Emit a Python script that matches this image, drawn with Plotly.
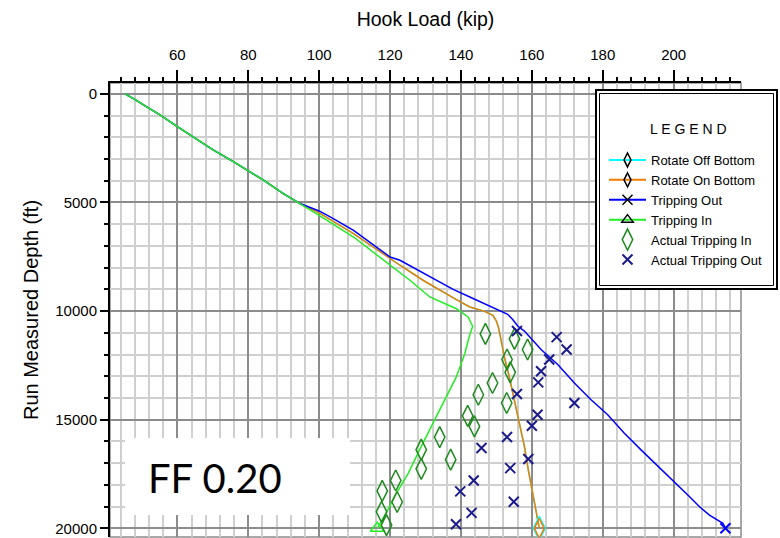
import plotly.graph_objects as go

# ---------------- data ----------------
# Tripping Out (blue)
trip_out_depth = [0, 250, 550, 970, 1510, 2000, 2590, 3120, 3540, 3970, 4590, 5050, 5390, 5740, 6280,
                  7510, 7660, 8580, 9000, 9350, 9920, 10150, 10390, 10690, 10920, 11770, 12460, 13310,
                  14080, 14770, 15620, 16390, 18550, 19010, 19390, 19770, 20000]
trip_out_kip = [45.2, 48.0, 50.9, 55.1, 60.0, 64.5, 70.2, 75.8, 80.0, 84.3, 89.9, 94.6, 100.0, 104.0, 109.7,
                120.0, 122.8, 133.1, 137.8, 142.5, 150.4, 153.2, 154.6, 156.0, 157.9, 162.6, 167.3, 172.0,
                176.7, 181.4, 186.1, 190.8, 204.5, 207.3, 210.1, 213.9, 214.6]

# Rotate On Bottom (orange)
rot_on_depth = [0, 250, 550, 970, 1510, 2000, 2590, 3120, 3540, 3970, 4590, 5050, 5480, 6430, 7890,
                8580, 9460, 9810, 10000, 10200, 10460, 10770, 11150, 12080, 13000, 14080, 15150, 16230,
                17310, 18390, 19150, 20000]
rot_on_kip = [45.2, 48.0, 50.9, 55.1, 60.0, 64.5, 70.2, 75.8, 80.0, 84.3, 89.9, 94.6, 100.0, 109.7, 122.8,
              129.3, 138.6, 142.5, 146.5, 149.0, 150.0, 150.6, 151.1, 152.2, 153.6, 155.1, 156.5, 157.9,
              159.0, 160.2, 161.2, 162.1]

# Rotate Off Bottom (cyan) - hidden under the orange curve
rot_off_depth = list(rot_on_depth)
rot_off_kip = list(rot_on_kip)

# Tripping In (green)
trip_in_depth = [0, 250, 550, 970, 1510, 2000, 2590, 3120, 3540, 3970, 4590, 5050, 5590, 6590, 8200,
                 8580, 9350, 9890, 10270, 10700, 11190, 11950, 13030, 14100, 15010, 16300, 17450, 18500,
                 19270, 20000]
trip_in_kip = [45.2, 48.0, 50.9, 55.1, 60.0, 64.5, 70.2, 75.8, 80.0, 84.3, 89.9, 94.6, 100.0, 109.7, 122.8,
               125.6, 131.2, 138.7, 142.0, 143.3, 142.3, 141.1, 138.7, 135.4, 132.4, 128.6, 125.2, 121.4,
               119.0, 116.4]

# Actual Tripping In (green diamonds)
act_in_kip = [146.9, 155.1, 158.8, 153.0, 153.9, 148.9, 144.9, 152.9, 141.9, 143.8, 134.0, 128.8, 137.1,
              128.8, 121.6, 117.8, 122.0, 117.6, 119.0]
act_in_depth = [11050, 11280, 11770, 12230, 12820, 13310, 13850, 14230, 14820, 15310, 15800, 16380, 16840,
                17260, 17800, 18280, 18790, 19240, 19850]

# Actual Tripping Out (navy crosses)
act_out_kip = [155.8, 167.0, 169.8, 164.9, 162.6, 161.8, 155.8, 172.0, 161.6, 160.0, 153.0, 145.8, 159.0,
               153.9, 143.6, 139.8, 154.9, 143.0, 138.6]
act_out_depth = [10920, 11200, 11770, 12230, 12770, 13280, 13820, 14230, 14770, 15280, 15800, 16300, 16810,
                 17230, 17800, 18300, 18780, 19290, 19810]

x_range = [41, 219]
y_range = [20400, -500]

ARIAL = "Liberation Sans, Arial, sans-serif"

C_CYAN = "#00FFFF"
C_ORANGE = "#F07D00"
C_BLUE = "#0000FF"
C_GREEN = "#22EE22"
C_DGREEN = "#1E8A1E"
C_NAVY = "#1A1A8C"

fig = go.Figure()

# curves (no legend)
fig.add_trace(go.Scatter(x=rot_off_kip, y=rot_off_depth, mode="lines",
                         line=dict(color=C_CYAN, width=1.5), showlegend=False, hoverinfo="skip"))
fig.add_trace(go.Scatter(x=rot_on_kip, y=rot_on_depth, mode="lines",
                         line=dict(color=C_ORANGE, width=1.5), showlegend=False, hoverinfo="skip"))
fig.add_trace(go.Scatter(x=trip_out_kip, y=trip_out_depth, mode="lines",
                         line=dict(color=C_BLUE, width=1.5), showlegend=False, hoverinfo="skip"))
fig.add_trace(go.Scatter(x=trip_in_kip, y=trip_in_depth, mode="lines",
                         line=dict(color=C_GREEN, width=1.5), showlegend=False, hoverinfo="skip"))

# end markers
fig.add_trace(go.Scatter(x=rot_off_kip[-1:], y=rot_off_depth[-1:], mode="markers", showlegend=False,
                         marker=dict(symbol="diamond-tall-open", size=17, color=C_CYAN, line=dict(width=1.5))))
fig.add_trace(go.Scatter(x=rot_on_kip[-1:], y=rot_on_depth[-1:], mode="markers", showlegend=False,
                         marker=dict(symbol="diamond-tall-open", size=14, color=C_ORANGE, line=dict(width=1.5))))
fig.add_trace(go.Scatter(x=trip_out_kip[-1:], y=trip_out_depth[-1:], mode="markers", showlegend=False,
                         marker=dict(symbol="x-thin-open", size=10, color=C_BLUE, line=dict(width=2, color=C_BLUE))))
fig.add_trace(go.Scatter(x=trip_in_kip[-1:], y=trip_in_depth[-1:], mode="markers", showlegend=False,
                         marker=dict(symbol="triangle-up-open", size=12, color=C_GREEN, line=dict(width=1.5))))

# legend entries for the curves
legend_items = [
    ("Rotate Off Bottom", C_CYAN, "diamond-tall-open"),
    ("Rotate On Bottom", C_ORANGE, "diamond-tall-open"),
    ("Tripping Out", C_BLUE, "x-thin-open"),
    ("Tripping In", C_GREEN, "triangle-up-open"),
]
for name, col, sym in legend_items:
    fig.add_trace(go.Scatter(x=[None], y=[None], mode="lines+markers", name=name,
                             line=dict(color=col, width=2),
                             marker=dict(symbol=sym, size=10, color="black",
                                         line=dict(width=1.5, color="black"))))

fig.add_trace(go.Scatter(x=act_in_kip, y=act_in_depth, mode="markers", name="Actual Tripping In",
                         marker=dict(symbol="diamond-tall-open", size=15, color=C_DGREEN,
                                     line=dict(width=1.5, color=C_DGREEN))))
fig.add_trace(go.Scatter(x=act_out_kip, y=act_out_depth, mode="markers", name="Actual Tripping Out",
                         marker=dict(symbol="x-thin-open", size=10, color=C_NAVY,
                                     line=dict(width=2, color=C_NAVY))))

# plot geometry (pixels)
W, H = 780, 538
L, R, T, B = 110, 39, 83, 1
pw, ph = W - L - R, H - T - B


def px(x):
    return (x - L) / pw


def py(y):
    return (H - B - y) / ph


shapes = [
    # plot border (grey)
    dict(type="rect", xref="paper", yref="paper", x0=0, x1=1, y0=0, y1=1,
         line=dict(color="#8c8c8c", width=1.5), layer="below"),
    # FF box
    dict(type="rect", xref="paper", yref="paper", x0=px(125), x1=px(350), y0=py(515), y1=py(438),
         fillcolor="white", line=dict(width=0), layer="above"),
    # legend double box
    dict(type="rect", xref="paper", yref="paper", x0=px(596), x1=px(777), y0=py(289), y1=py(90),
         fillcolor="white", line=dict(color="black", width=2), layer="above"),
    dict(type="rect", xref="paper", yref="paper", x0=px(599.5), x1=px(773.5), y0=py(285.5), y1=py(93.5),
         line=dict(color="black", width=1), layer="above"),
]

annotations = [
    dict(text="FF 0.20", xref="paper", yref="paper", x=px(215), y=py(478), showarrow=False,
         xanchor="center", yanchor="middle",
         font=dict(family="Lato, Open Sans, sans-serif", size=40, color="black")),
    dict(text="L E G E N D", xref="paper", yref="paper", x=px(688), y=py(129), showarrow=False,
         xanchor="center", yanchor="middle",
         font=dict(family=ARIAL, size=14, color="black")),
]

fig.update_layout(
    width=W, height=H,
    margin=dict(l=L, r=R, t=T, b=B, pad=0, autoexpand=False),
    paper_bgcolor="white", plot_bgcolor="white",
    shapes=shapes, annotations=annotations,
    legend=dict(x=px(604), y=py(145), xanchor="left", yanchor="top",
                bgcolor="rgba(0,0,0,0)", borderwidth=0, itemwidth=37,
                font=dict(family=ARIAL, size=13, color="black"),
                tracegroupgap=0),
    xaxis=dict(
        side="top", range=x_range, dtick=20, tick0=0, automargin=False,
        ticks="outside", ticklen=11, tickwidth=1.5, tickcolor="black",
        ticklabelstandoff=4,
        showline=True, linecolor="black", linewidth=2,
        showgrid=True, gridcolor="#8c8c8c", gridwidth=1.5, zeroline=False,
        tickfont=dict(family=ARIAL, size=15, color="black"),
        title=dict(text="Hook Load (kip)", font=dict(family=ARIAL, size=19.5, color="black"), standoff=14),
        minor=dict(dtick=4, tick0=0, ticks="outside", ticklen=4, tickwidth=1.5, tickcolor="black",
                   showgrid=True, gridcolor="#cfcfcf", gridwidth=1.5),
        fixedrange=True,
    ),
    yaxis=dict(
        range=y_range, dtick=5000, tick0=0, tickformat="d", automargin=False,
        ticks="outside", ticklen=8, tickwidth=1.5, tickcolor="black",
        showline=True, linecolor="black", linewidth=2,
        showgrid=True, gridcolor="#8c8c8c", gridwidth=1.5, zeroline=False,
        tickfont=dict(family=ARIAL, size=15, color="black"),
        title=dict(text="Run Measured Depth (ft)", font=dict(family=ARIAL, size=20, color="black"), standoff=11),
        minor=dict(dtick=1000, tick0=0, ticks="outside", ticklen=4, tickwidth=1.5, tickcolor="black",
                   showgrid=True, gridcolor="#cfcfcf", gridwidth=1.5),
        fixedrange=True,
    ),
)

fig.write_html("out.html", config={"displayModeBar": False, "staticPlot": False},
               post_script="document.body.style.margin='0';document.body.style.padding='0';")
